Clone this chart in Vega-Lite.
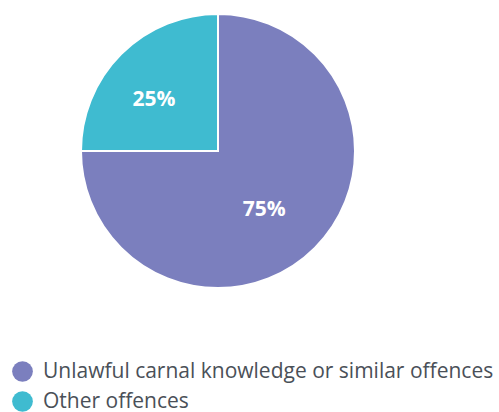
{
  "$schema": "https://vega.github.io/schema/vega-lite/v6.json",
  "width": 436,
  "height": 302,
  "padding": {"left": 0, "top": 0, "right": 63, "bottom": 110},
  "autosize": "none",
  "background": "white",
  "data": {"values": [
    {"category": "Unlawful carnal knowledge or similar offences", "value": 75, "label": "75%", "order": 1},
    {"category": "Other offences", "value": 25, "label": "25%", "order": 2}
  ]},
  "encoding": {
    "theta": {"field": "value", "type": "quantitative", "stack": true},
    "order": {"field": "order", "type": "quantitative"}
  },
  "layer": [
    {
      "mark": {"type": "arc", "outerRadius": 137, "stroke": "white", "strokeWidth": 2},
      "encoding": {
        "color": {
          "field": "category", "type": "nominal",
          "scale": {"domain": ["Unlawful carnal knowledge or similar offences", "Other offences"], "range": ["#7B7FBE", "#3FBBD0"]},
          "legend": {
            "title": null, "orient": "none", "legendX": 12, "legendY": 361,
            "direction": "vertical", "symbolType": "circle", "symbolSize": 430,
            "symbolStrokeWidth": 0, "labelFontSize": 21, "labelFont": "Open Sans",
            "labelColor": "#4a5058", "rowPadding": 8, "labelOffset": 10, "labelLimit": 600
          }
        }
      }
    },
    {
      "mark": {"type": "text", "radius": 78, "dx": -9, "dy": 4, "font": "Open Sans", "fontSize": 21, "fontWeight": "bold", "color": "white"},
      "encoding": {"text": {"field": "label"}}
    }
  ]
}
